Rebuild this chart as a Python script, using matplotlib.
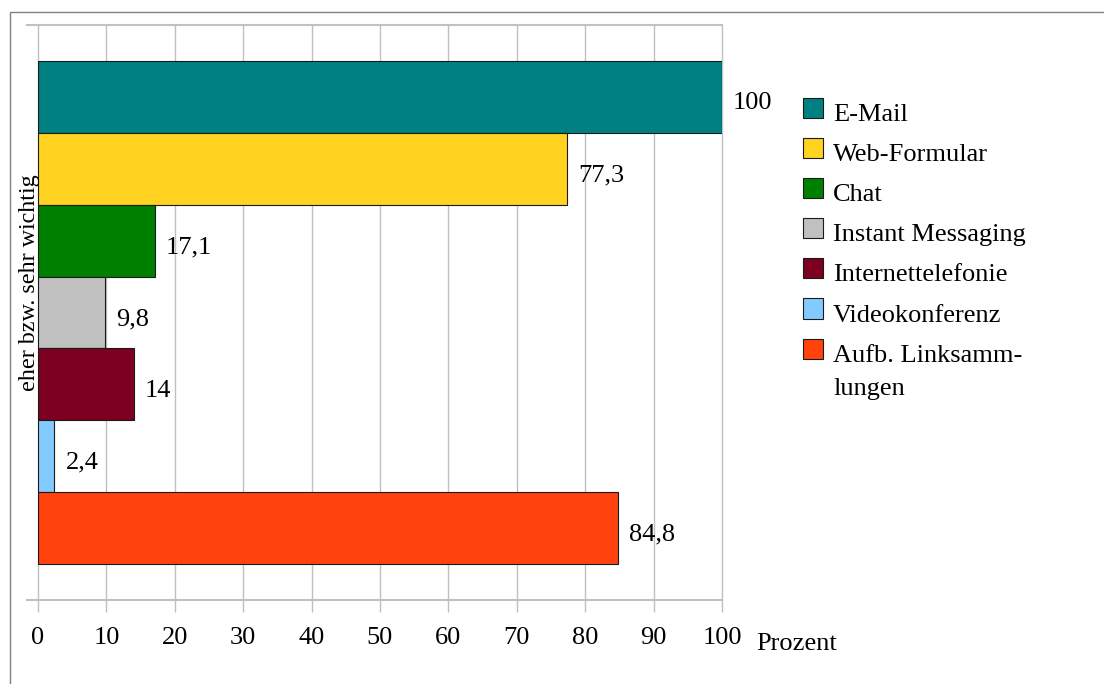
import matplotlib
matplotlib.use("Agg")
import matplotlib.pyplot as plt
from matplotlib.patches import Rectangle

plt.rcParams['font.family'] = ['Liberation Serif', 'DejaVu Serif']

# Antworten "eher bzw. sehr wichtig" in Prozent
kanaele = ["E-Mail", "Web-Formular", "Chat", "Instant Messaging",
           "Internettelefonie", "Videokonferenz", "Aufb. Linksamm-\nlungen"]
prozent = [100, 77.3, 17.1, 9.8, 14, 2.4, 84.8]
farben = ["#008080", "#ffd320", "#008000", "#c0c0c0",
          "#7e0021", "#83caff", "#ff420e"]
x_ticks = [0, 10, 20, 30, 40, 50, 60, 70, 80, 90, 100]

W, H = 1104, 684
FS = 19
fig = plt.figure(figsize=(W / 100, H / 100), dpi=100)

# Rahmen um die Grafik (rechts und unten abgeschnitten)
fig.patches.append(Rectangle((10 / W, -0.1), 1.2, 1.1 - 12 / H,
                             transform=fig.transFigure, fill=False,
                             edgecolor="#808080", linewidth=1.0))

ax = fig.add_axes([38 / W, (H - 600) / H, (722 - 38) / W, 575 / H])

n = len(prozent)
ypos = [n - i for i in range(n)]
gitter = "#c0c0c0"

for xv in x_ticks:
    ax.axvline(xv, color=gitter, linewidth=1.0, zorder=0, clip_on=False)
ax.plot([-1.6, 100], [n + 1, n + 1], color=gitter, linewidth=1.5,
        clip_on=False, zorder=0)
ax.plot([-1.6, 100], [0, 0], color=gitter, linewidth=1.5,
        clip_on=False, zorder=0)

bars = ax.barh(ypos, prozent, height=1.0, color=farben,
               edgecolor="#1a1a1a", linewidth=0.8, zorder=2)

for y, v in zip(ypos, prozent):
    txt = f"{v:g}".replace(".", ",")
    ax.annotate(txt, xy=(v, y), xytext=(8, -9), textcoords="offset points",
                ha="left", va="baseline", fontsize=FS)

ax.set_xlim(0, 100)
ax.set_ylim(0, n + 1)
ax.set_xticks(x_ticks)
ax.set_xticklabels([str(t) for t in x_ticks], fontsize=FS)
ax.set_yticks([])
ax.tick_params(axis="x", length=8.6, width=1.0, color=gitter, pad=11)
for s in ax.spines.values():
    s.set_visible(False)

fig.text(756 / W, (H - 650) / H, "Prozent", fontsize=FS, ha="left",
         va="baseline")
fig.text(35 / W, (H - 283) / H, "eher bzw. sehr wichtig", fontsize=17.4,
         rotation=90, ha="center", va="baseline", rotation_mode="anchor")

# Legende: Kästchen oben bündig mit der ersten Textzeile
for i, (name, farbe) in enumerate(zip(kanaele, farben)):
    top = 98 + 40.1 * i
    fig.patches.append(Rectangle((803 / W, (H - top - 20) / H), 20 / W, 20 / H,
                                 transform=fig.transFigure, facecolor=farbe,
                                 edgecolor="#1a1a1a", linewidth=0.8))
    for j, zeile in enumerate(name.split("\n")):
        fig.text(833 / W, (H - top - 23 - 33 * j) / H, zeile, fontsize=FS,
                 ha="left", va="baseline")

fig.savefig("out.png", dpi=100, facecolor="white")
